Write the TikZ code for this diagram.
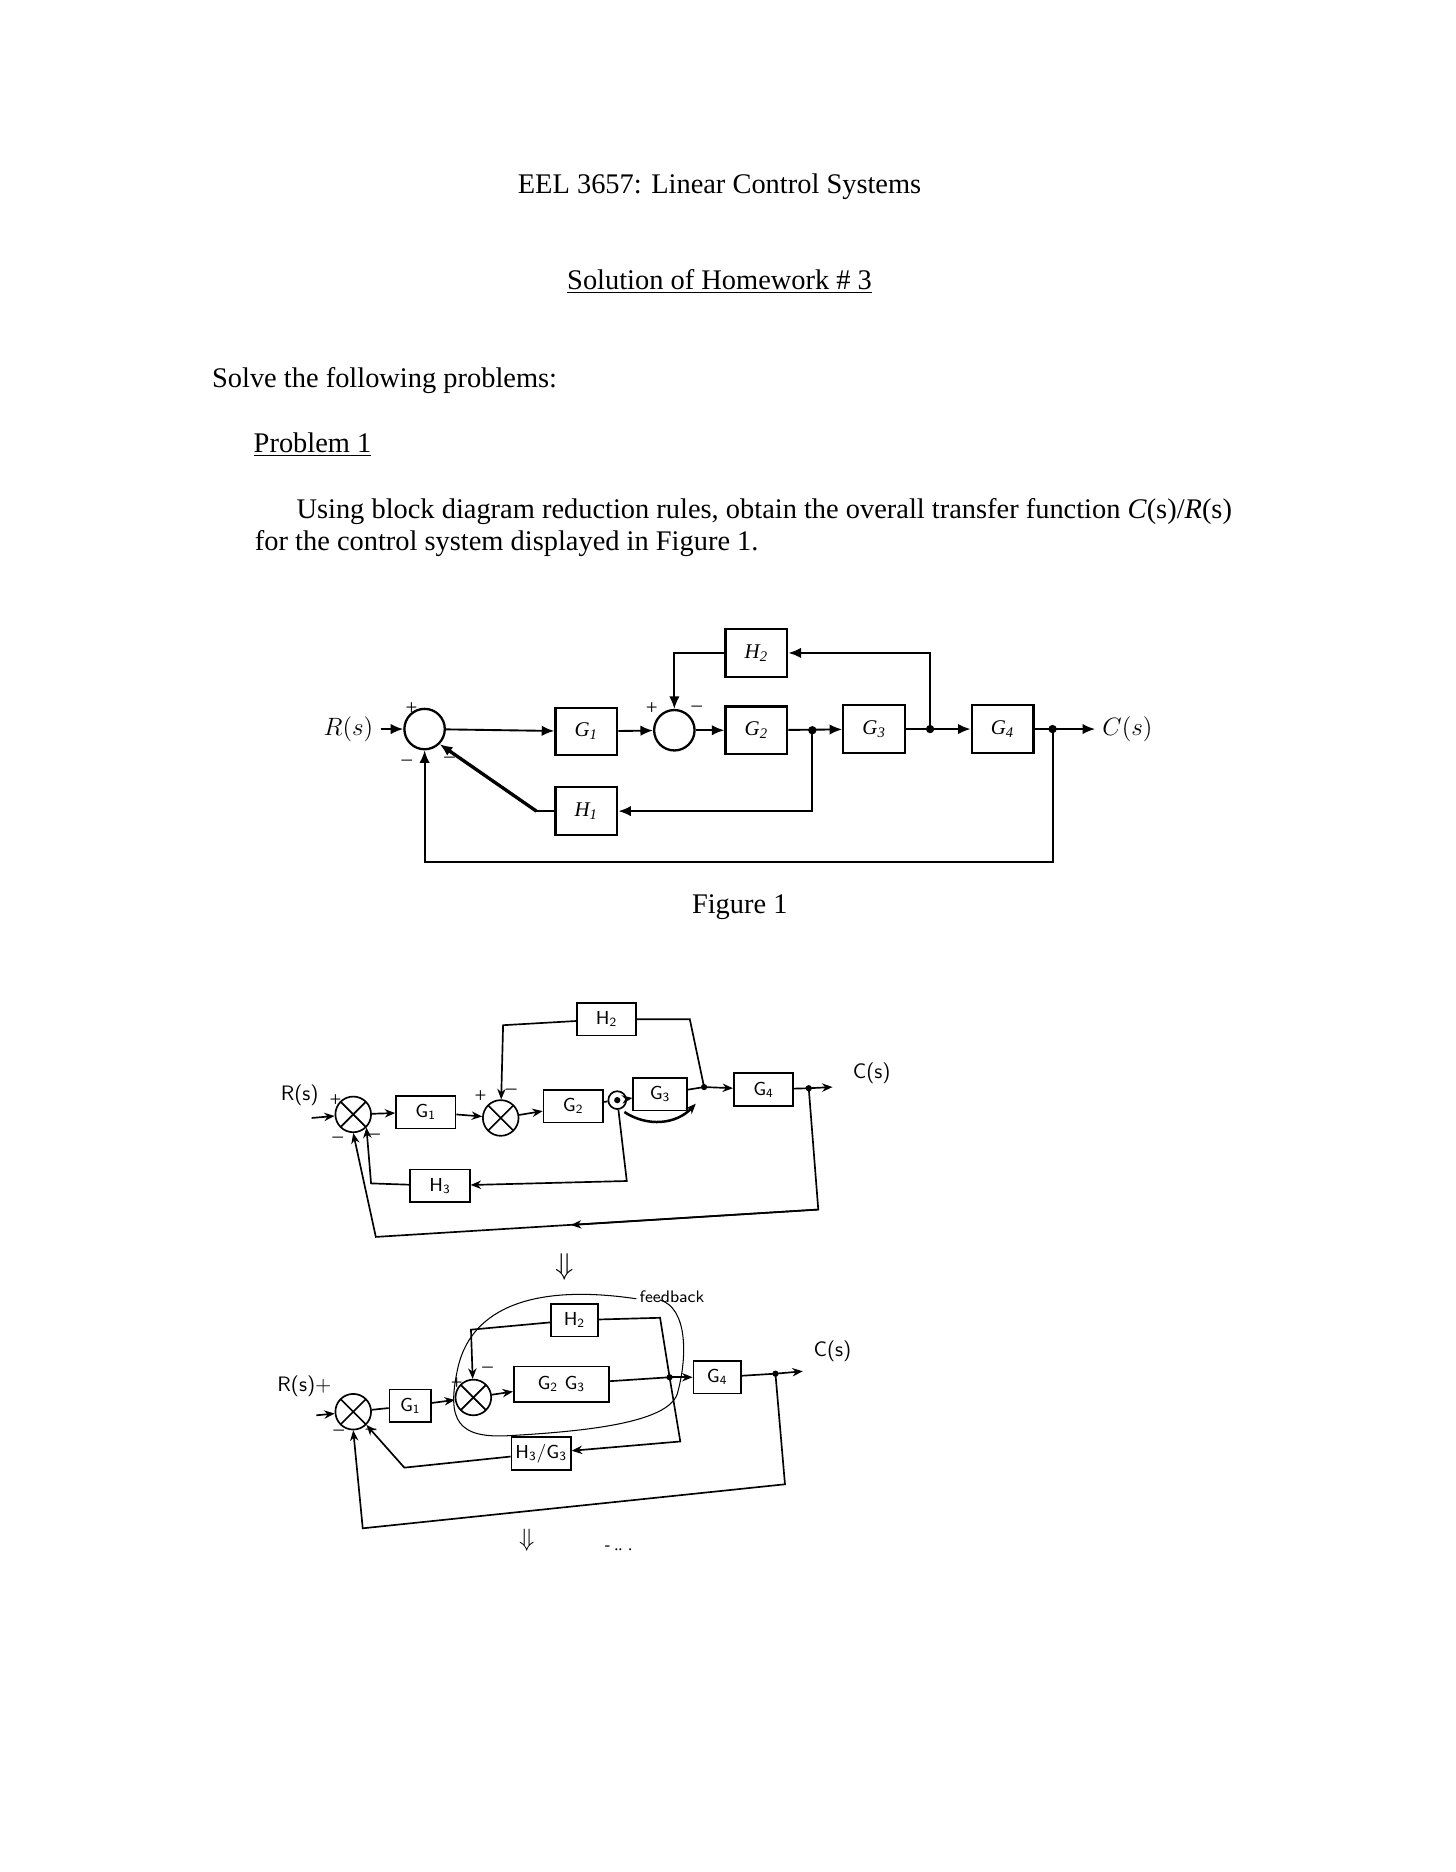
\documentclass[tikz,border=0pt]{standalone}
\usepackage{fontspec}
\setmainfont{Liberation Serif}
\usetikzlibrary{arrows.meta,calc}
\begin{document}
\begin{tikzpicture}[x=0.02cm,y=-0.02cm,
  txt/.style={font=\fontsize{13.6}{16}\selectfont,inner sep=0pt},
  blk/.style={draw,line width=1.1pt,minimum width=1.04cm,minimum height=0.8cm,inner sep=0pt,font=\fontsize{10}{12}\selectfont\itshape},
  hb/.style={draw,line width=0.8pt,minimum width=1.0cm,minimum height=0.55cm,inner sep=1pt,font=\sffamily\fontsize{9}{10}\selectfont},
  sm/.style={draw,circle,line width=1.1pt,minimum size=0.68cm,inner sep=0pt},
  hx/.style={draw,circle,line width=0.8pt,minimum size=0.6cm,inner sep=0pt,path picture={\draw (path picture bounding box.north west)--(path picture bounding box.south east) (path picture bounding box.north east)--(path picture bounding box.south west);}},
  ln/.style={line width=0.9pt},
  ar/.style={line width=0.9pt,-{Latex[length=6pt,width=5pt]}},
  hl/.style={line width=0.8pt},
  ha/.style={line width=0.8pt,-{Stealth[length=5pt,width=4pt]}},
  dot/.style={circle,fill,inner sep=0pt,minimum size=4pt},
  sg/.style={font=\fontsize{10}{10}\selectfont,inner sep=1pt}]
\useasboundingbox (0,0) rectangle (1224,1574);
% header text
\node[txt] (title) at (605,157) {EEL 3657: Linear Control Systems};
\node[txt] (sol) at (605,237) {\underline{Solution of Homework \# 3}};
\node[txt,anchor=west] (solve) at (178,320) {Solve the following problems:};
\node[txt,anchor=west] (prob) at (213,374) {\underline{Problem 1}};
\node[txt,anchor=west] (l1) at (249,430) {Using block diagram reduction rules, obtain the overall transfer function \textit{C}(s)/\textit{R}(s)};
\node[txt,anchor=west] (l2) at (214,457) {for the control system displayed in Figure 1.};
% Figure 1
\node[font=\fontsize{12}{14}\selectfont] (Rs) at (293,613) {$R(s)$};
\node[sm] (s1) at (357,613) {};
\node[blk] (G1) at (493,615) {G\textsubscript{1}};
\node[sm] (s2) at (567,614) {};
\node[blk] (G2) at (636,614) {G\textsubscript{2}};
\node[blk] (H2) at (636,549) {H\textsubscript{2}};
\node[blk] (G3) at (735,613) {G\textsubscript{3}};
\node[blk] (G4) at (843,613) {G\textsubscript{4}};
\node[blk] (H1) at (493,682) {H\textsubscript{1}};
\node[font=\fontsize{12}{14}\selectfont] (Cs) at (948,613) {$C(s)$};
\coordinate (p1) at (683,614);
\coordinate (p2) at (782,613);
\coordinate (p3) at (885,613);
\node[dot] at (p1) {}; \node[dot] at (p2) {}; \node[dot] at (p3) {};
\draw[ar] (Rs) -- (s1);
\draw[ar] (s1) -- (G1);
\draw[ar] (G1) -- (s2);
\draw[ar] (s2) -- (G2);
\draw[ar] (G2) -- (G3);
\draw[ar] (G3) -- (G4);
\draw[ar] (G4) -- (Cs);
\draw[ar] (p2) |- (H2);
\draw[ar] (H2) -| (s2);
\draw[ar] (p1) |- (H1);
\coordinate (h1l) at (451,682);
\draw[ln] (H1) -- (h1l);
\draw[ar,line width=1.6pt] (h1l) -- (s1.south east);
\draw[ar] (p3) -- (885,725) -| (s1);
\node[sg] at (346,596) {+}; \node[sg] at (342,641) {\textendash}; \node[sg] at (378,639) {\textendash};
\node[sg] at (548,596) {+}; \node[sg] at (586,596) {\textendash};
\node[txt] (fig) at (622,763) {Figure 1};
% hand diagram 2
\node[font=\sffamily\fontsize{10}{12}\selectfont] (R2) at (252,921) {R(s)};
\node[hx] (a1) at (297,937) {};
\node[hb] (aG1) at (358,935) {G\textsubscript{1}};
\node[hx] (a2) at (421,940) {};
\node[hb] (aG2) at (482,930) {G\textsubscript{2}};
\node[draw,circle,hl,minimum size=0.3cm,inner sep=0pt] (apk) at (519,925) {};
\node[dot,minimum size=3pt] at (apk) {};
\node[hb,minimum width=0.9cm] (aG3) at (555,920) {G\textsubscript{3}};
\node[hb] (aG4) at (642,916) {G\textsubscript{4}};
\node[hb] (aH2) at (510,857) {H\textsubscript{2}};
\node[hb] (aH3) at (370,997) {H\textsubscript{3}};
\node[font=\sffamily\fontsize{10}{12}\selectfont] (C2) at (733,902) {C(s)};
\coordinate (aq) at (592,914); \coordinate (ab) at (680,915);
\coordinate (aend) at (700,914);
\node[dot,minimum size=3pt] at (aq) {}; \node[dot,minimum size=3pt] at (ab) {};
\draw[ha] (262,940) -- (a1);
\draw[ha] (a1) -- (aG1);
\draw[ha] (aG1) -- (a2);
\draw[ha] (a2) -- (aG2);
\draw[hl] (aG2) -- (apk);
\draw[ha] (apk) -- (aG3);
\draw[hl] (aG3) -- (aq);
\draw[ha] (aq) -- (aG4);
\draw[hl] (aG4) -- (ab);
\draw[ha] (ab) -- (aend);
\draw[hl] (aq) -- (580,857) -- (aH2);
\draw[ha] (aH2) -- (423,862) -- (a2);
\draw[ha] (apk) -- (527,993) -- (aH3);
\draw[ha] (aH3) -- (312,995) -- (a1.south east);
\draw[ha] (ab) -- (688,1017) -- (316,1040) -- (a1.south);
\draw[ha] (688,1017) -- (480,1030);
\draw[ha,line width=1.2pt] (525,935) to[bend right=40] (585,928);
\node[sg] at (282,925) {+}; \node[sg] at (284,958) {\textendash}; \node[sg] at (315,956) {\textendash};
\node[sg] at (404,922) {+}; \node[sg] at (430,918) {\textendash};
\node[font=\fontsize{14}{14}\selectfont] (arr1) at (475,1065) {$\Downarrow$};
% hand diagram 3
\node[font=\sffamily\fontsize{10}{12}\selectfont] (R3) at (256,1166) {R(s)+};
\node[hx] (b1) at (297,1187) {};
\node[hb,minimum width=0.7cm] (bG1) at (345,1182) {G\textsubscript{1}};
\node[hx] (b2) at (398,1175) {};
\node[hb,minimum width=1.6cm,minimum height=0.6cm] (bG23) at (472,1164) {G\textsubscript{2} G\textsubscript{3}};
\node[hb,minimum width=0.8cm] (bH2) at (483,1110) {H\textsubscript{2}};
\node[hb,minimum width=0.8cm] (bG4) at (603,1158) {G\textsubscript{4}};
\node[hb] (bH3) at (455,1222) {H\textsubscript{3}/G\textsubscript{3}};
\node[font=\sffamily\fontsize{10}{12}\selectfont] (C3) at (700,1136) {C(s)};
\node[font=\sffamily\fontsize{8}{10}\selectfont] (fb) at (565,1090) {feedback};
\coordinate (bq) at (563,1158); \coordinate (bb) at (652,1155);
\node[dot,minimum size=3pt] at (bq) {}; \node[dot,minimum size=3pt] at (bb) {};
\draw[ha] (266,1190) -- (b1);
\draw[hl] (b1) -- (bG1);
\draw[ha] (bG1) -- (b2);
\draw[ha] (b2) -- (bG23);
\draw[hl] (bG23) -- (bq);
\draw[ha] (bq) -- (bG4);
\draw[hl] (bG4) -- (bb);
\draw[ha] (bb) -- (675,1153);
\draw[hl] (bq) -- (555,1108) -- (bH2);
\draw[ha] (bH2) -- (396,1118) -- (b2);
\draw[ha] (bq) -- (572,1212) -- (bH3);
\draw[ha] (bH3) -- (340,1234) -- (b1.south east);
\draw[ha] (bb) -- (660,1248) -- (305,1285) -- (b1.south);
\draw[line width=0.5pt] (535,1092) .. controls (440,1078) and (395,1105) .. (385,1150)
  .. controls (375,1195) and (385,1210) .. (430,1207)
  .. controls (500,1203) and (565,1195) .. (570,1170)
  .. controls (578,1140) and (578,1100) .. (555,1093);
\node[sg] at (285,1205) {\textendash}; \node[sg] at (312,1204) {\textendash};
\node[sg] at (410,1152) {\textendash}; \node[sg] at (384,1163) {+};
\node[font=\fontsize{12}{12}\selectfont] (arr2) at (443,1295) {$\Downarrow$};
\node[font=\fontsize{8}{8}\selectfont] (dots) at (520,1302) {- .. .};
\end{tikzpicture}
\end{document}
